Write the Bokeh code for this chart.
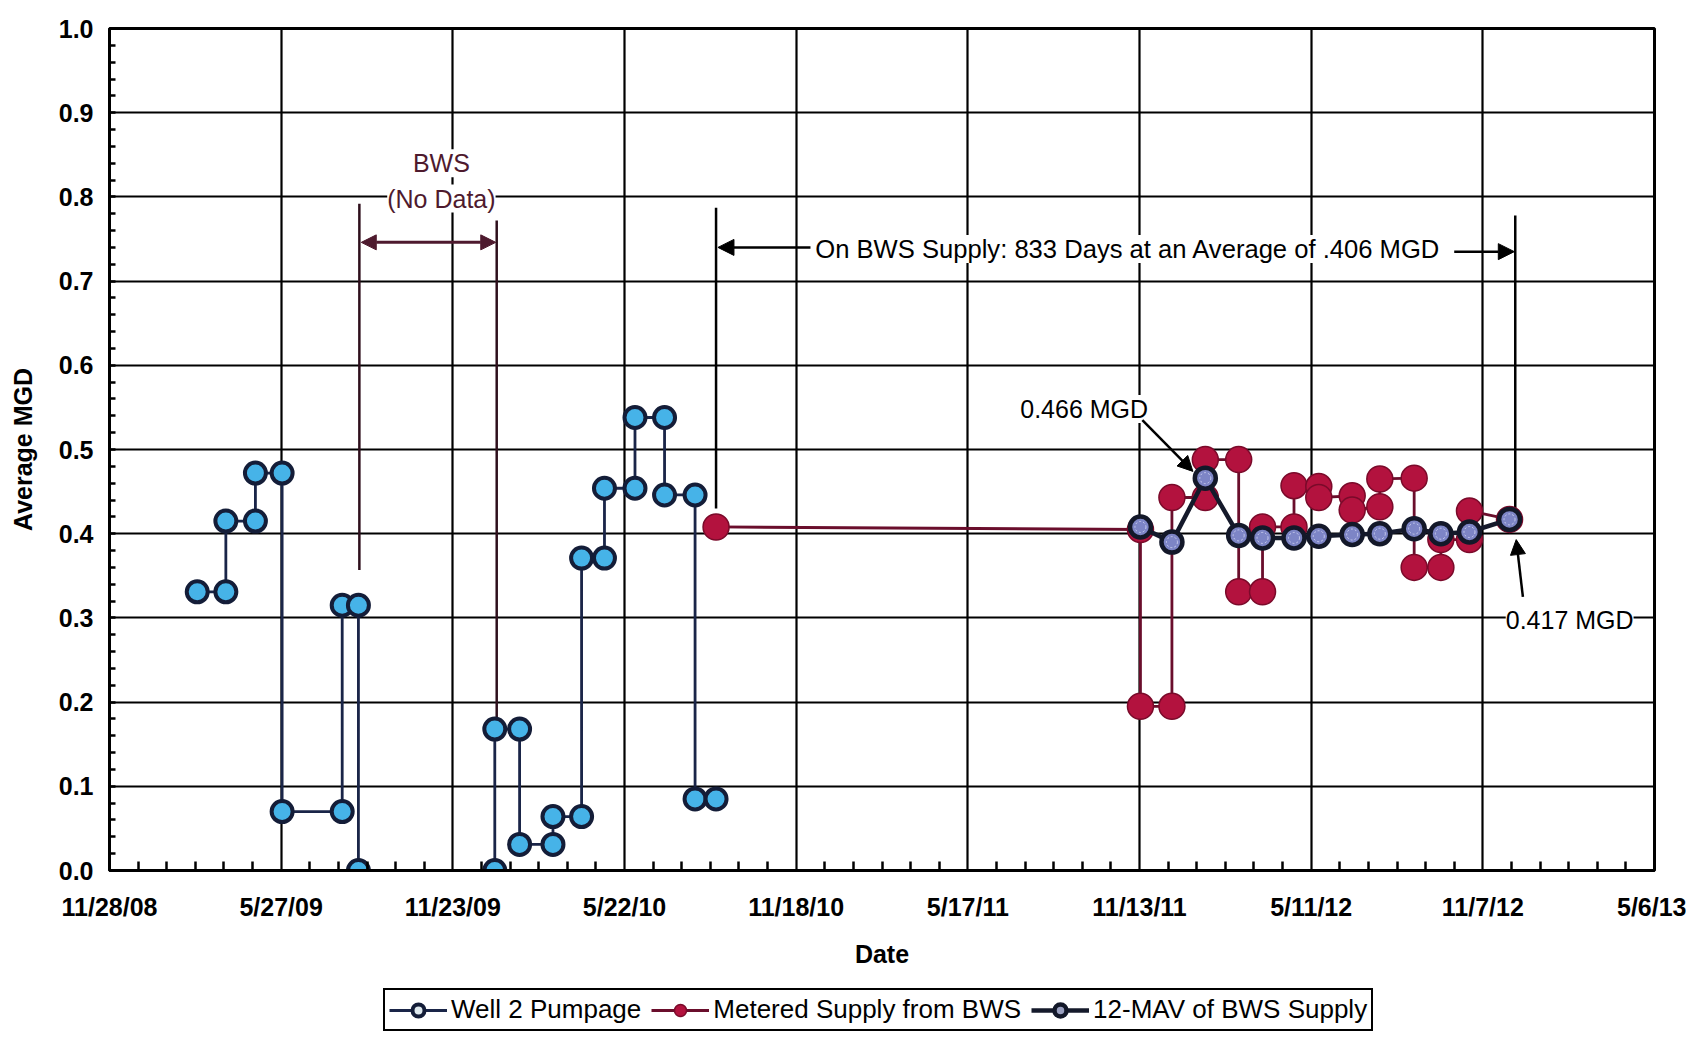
import pandas as pd
import numpy as np
from bokeh.plotting import figure
from bokeh.layouts import column
from bokeh.models import (FixedTicker, Label, Arrow, NormalHead, Legend, LegendItem,
                          ColumnDataSource, Range1d, NumeralTickFormatter)
from bokeh.embed import file_html
from bokeh.resources import INLINE

# ---------------- data ----------------
x_tick_labels = ["11/28/08", "5/27/09", "11/23/09", "5/22/10", "11/18/10",
                 "5/17/11", "11/13/11", "5/11/12", "11/7/12", "5/6/13"]
y_ticks = [0.0, 0.1, 0.2, 0.3, 0.4, 0.5, 0.6, 0.7, 0.8, 0.9, 1.0]

well_dates = ["2009-02-28", "2009-03-30", "2009-03-30", "2009-04-30", "2009-04-30",
              "2009-05-28", "2009-05-28", "2009-07-30", "2009-07-30", "2009-08-16",
              "2009-08-16", "2010-01-06", "2010-01-06", "2010-02-01", "2010-02-01",
              "2010-03-08", "2010-03-08", "2010-04-07", "2010-04-07", "2010-05-01",
              "2010-05-01", "2010-06-02", "2010-06-02", "2010-07-03", "2010-07-03",
              "2010-08-04", "2010-08-04", "2010-08-26"]
well_mgd = [0.331, 0.331, 0.415, 0.415, 0.472, 0.472, 0.070, 0.070, 0.315, 0.315,
            0.0, 0.0, 0.168, 0.168, 0.031, 0.031, 0.064, 0.064, 0.371, 0.371,
            0.454, 0.454, 0.538, 0.538, 0.446, 0.446, 0.085, 0.085]

bws_dates = ["2010-08-26", "2011-11-14", "2011-11-14", "2011-12-17", "2011-12-17",
             "2012-01-21", "2012-01-21", "2012-02-25", "2012-02-25", "2012-03-21",
             "2012-03-21", "2012-04-23", "2012-04-23", "2012-05-19", "2012-05-19",
             "2012-06-23", "2012-06-23", "2012-07-22", "2012-07-22", "2012-08-27",
             "2012-08-27", "2012-09-24", "2012-09-24", "2012-10-24", "2012-10-24",
             "2012-12-05"]
bws_mgd = [0.408, 0.405, 0.195, 0.195, 0.443, 0.443, 0.488, 0.488, 0.331, 0.331,
           0.408, 0.408, 0.457, 0.456, 0.443, 0.445, 0.428, 0.432, 0.465, 0.466,
           0.360, 0.360, 0.393, 0.393, 0.427, 0.417]

mav_dates = ["2011-11-14", "2011-12-17", "2012-01-21", "2012-02-25", "2012-03-21",
             "2012-04-23", "2012-05-19", "2012-06-23", "2012-07-22", "2012-08-27",
             "2012-09-24", "2012-10-24", "2012-12-05"]
mav_mgd = [0.408, 0.390, 0.466, 0.398, 0.395, 0.395, 0.397, 0.399, 0.400, 0.406,
           0.400, 0.402, 0.417]

series_labels = ["Well 2 Pumpage", "Metered Supply from BWS", "12-MAV of BWS Supply"]


def ms(s):
    return int(pd.Timestamp(s).value // 10**6)


# ---------------- ticks ----------------
major_ms = [int(pd.to_datetime(t, format="%m/%d/%y").value // 10**6) for t in x_tick_labels]
day = 86400000
minor_ms = [t for t in range(major_ms[0], major_ms[-1] + 1, 30 * day) if t not in major_ms]
y_minor = [round(v, 2) for v in np.arange(0, 1.0001, 0.02)]

FONT = "Liberation Sans"
MAROON = "#4e1a2e"
W = 1686
H_MAIN = 970
H_LEG = 62

p = figure(width=W, height=H_MAIN, x_axis_type="datetime",
           x_range=Range1d(major_ms[0], major_ms[-1]), y_range=Range1d(0, 1),
           output_backend="svg", toolbar_location=None,
           min_border_left=109, min_border_right=32, min_border_top=28,
           min_border_bottom=100)
p.background_fill_color = "white"
p.border_fill_color = "white"
p.outline_line_color = "black"
p.outline_line_width = 3

p.xaxis.ticker = FixedTicker(ticks=major_ms, minor_ticks=minor_ms)
p.xaxis.major_label_overrides = {t: lab for t, lab in zip(major_ms, x_tick_labels)}
p.yaxis.ticker = FixedTicker(ticks=y_ticks, minor_ticks=y_minor)
p.yaxis.formatter = NumeralTickFormatter(format="0.0")

for ax in (p.xaxis, p.yaxis):
    ax.axis_line_color = "black"
    ax.axis_line_width = 3
    ax.major_tick_in = 0
    ax.major_tick_out = 0
    ax.minor_tick_out = 0
    ax.minor_tick_line_color = "black"
    ax.minor_tick_line_width = 2.5
    ax.major_label_text_font = FONT
    ax.major_label_text_font_style = "bold"
    ax.major_label_text_font_size = "25px"
    ax.major_label_text_color = "black"
    ax.axis_label_text_font = FONT
    ax.axis_label_text_font_style = "bold"
    ax.axis_label_text_font_size = "25px"
    ax.axis_label_text_color = "black"
p.xaxis.minor_tick_in = 9
p.yaxis.minor_tick_in = 6
p.xaxis.major_label_standoff = 22
p.yaxis.major_label_standoff = 16
p.xaxis.axis_label = "Date"
p.yaxis.axis_label = "Average MGD"
p.xaxis.axis_label_standoff = 16
p.yaxis.axis_label_standoff = 19

p.grid.grid_line_color = "black"
p.grid.grid_line_width = 2.2
p.grid.grid_line_alpha = 1

# ---------------- annotations (lines) ----------------
p.segment(x0=[ms("2009-08-17"), ms("2010-01-08")], x1=[ms("2009-08-17"), ms("2010-01-08")],
          y0=[0.792, 0.772], y1=[0.357, 0.18], line_color="#2e0f1c", line_width=2.5)
p.segment(x0=[ms("2010-08-26"), ms("2012-12-11")], x1=[ms("2010-08-26"), ms("2012-12-11")],
          y0=[0.787, 0.778], y1=[0.43, 0.428], line_color="black", line_width=2.5)

# ---------------- series ----------------
well_src = ColumnDataSource(dict(x=pd.to_datetime(well_dates), y=well_mgd))
bws_src = ColumnDataSource(dict(x=pd.to_datetime(bws_dates), y=bws_mgd))
mav_src = ColumnDataSource(dict(x=pd.to_datetime(mav_dates), y=mav_mgd))

WELL_LINE = dict(line_color="#1a2548", line_width=2.8)
WELL_MK = dict(size=21, fill_color="#46b3e8", line_color="#141d38", line_width=4)
BWS_LINE = dict(line_color="#6a0e2c", line_width=2.8)
BWS_MK = dict(size=26, fill_color="#b3123e", line_color="#7a0a2a", line_width=1.5)
MAV_LINE = dict(line_color="#151a2b", line_width=4.5)
MAV_MK = dict(size=21, fill_color="#7d85c6", line_color="#131829", line_width=4.5)

p.line("x", "y", source=well_src, **WELL_LINE)
p.scatter("x", "y", source=well_src, **WELL_MK)
p.line("x", "y", source=bws_src, **BWS_LINE)
p.scatter("x", "y", source=bws_src, **BWS_MK)
p.line("x", "y", source=mav_src, **MAV_LINE)
p.scatter("x", "y", source=mav_src, **MAV_MK)
p.scatter("x", "y", source=mav_src, size=11, fill_color=None, line_color="#c9cdef",
          line_width=1, line_dash="2 2")

# ---------------- annotations (text + arrows) ----------------
def lab(x, y, text, align="center", color="black", size="25px"):
    p.add_layout(Label(x=x, y=y, text=text, text_align=align, text_baseline="middle",
                       text_font=FONT, text_font_size=size, text_color=color,
                       background_fill_color="white"))

lab(ms("2009-11-11"), 0.840, "BWS", color=MAROON)
lab(ms("2009-11-11"), 0.798, "(No Data)", color=MAROON)
lab(ms("2010-12-08"), 0.738, "On BWS Supply: 833 Days at an Average of .406 MGD",
    align="left", size="25.6px")
lab(ms("2011-11-22"), 0.548, "0.466 MGD", align="right")
lab(ms("2012-12-01"), 0.298, "0.417 MGD", align="left")

p.add_layout(Arrow(start=NormalHead(size=15, fill_color=MAROON, line_color=MAROON),
                   end=NormalHead(size=15, fill_color=MAROON, line_color=MAROON),
                   x_start=ms("2009-08-19"), y_start=0.746, x_end=ms("2010-01-07"), y_end=0.746,
                   line_color=MAROON, line_width=3))
p.add_layout(Arrow(end=NormalHead(size=16, fill_color="black", line_color="black"),
                   x_start=ms("2010-12-03"), y_start=0.740, x_end=ms("2010-08-28"), y_end=0.740,
                   line_color="black", line_width=2.5))
p.add_layout(Arrow(end=NormalHead(size=16, fill_color="black", line_color="black"),
                   x_start=ms("2012-10-08"), y_start=0.735, x_end=ms("2012-12-10"), y_end=0.735,
                   line_color="black", line_width=2.5))
p.add_layout(Arrow(end=NormalHead(size=15, fill_color="black", line_color="black"),
                   x_start=ms("2011-11-16"), y_start=0.535, x_end=ms("2012-01-08"), y_end=0.474,
                   line_color="black", line_width=2.5))
p.add_layout(Arrow(end=NormalHead(size=15, fill_color="black", line_color="black"),
                   x_start=ms("2012-12-19"), y_start=0.325, x_end=ms("2012-12-12"), y_end=0.393,
                   line_color="black", line_width=2.5))

# ---------------- legend (own strip below the chart) ----------------
# the legend strip reuses the series sources; its 0..1 ranges keep the data out of view,
# so only the legend swatches are visible there
pl = figure(width=W, height=H_LEG, x_range=Range1d(0, 1), y_range=Range1d(0, 1),
            output_backend="svg", toolbar_location=None, min_border=0)
pl.axis.visible = False
pl.grid.visible = False
pl.outline_line_color = None
pl.background_fill_color = "white"
pl.border_fill_color = "white"
lw = pl.line("x", "y", source=well_src, **WELL_LINE)
sw = pl.scatter("x", "y", source=well_src, **dict(WELL_MK, fill_color="#dfe9ee"))
lb = pl.line("x", "y", source=bws_src, **BWS_LINE)
sb = pl.scatter("x", "y", source=bws_src, **BWS_MK)
lm = pl.line("x", "y", source=mav_src, **MAV_LINE)
sm = pl.scatter("x", "y", source=mav_src, **dict(MAV_MK, fill_color="#9aa0c0"))
legend = Legend(items=[LegendItem(label=series_labels[0], renderers=[lw, sw]),
                       LegendItem(label=series_labels[1], renderers=[lb, sb]),
                       LegendItem(label=series_labels[2], renderers=[lm, sm])],
                orientation="horizontal", location=(274, 1),
                border_line_color="black", border_line_width=2.5, border_line_alpha=1.0,
                label_text_font=FONT, label_text_font_size="26px", label_text_color="black",
                glyph_width=58, glyph_height=30, spacing=10, padding=4, margin=0,
                label_standoff=4, background_fill_color="white", background_fill_alpha=1.0)
pl.add_layout(legend)

page = column(p, pl, spacing=0)
open("out.html", "w").write(file_html(page, INLINE))
